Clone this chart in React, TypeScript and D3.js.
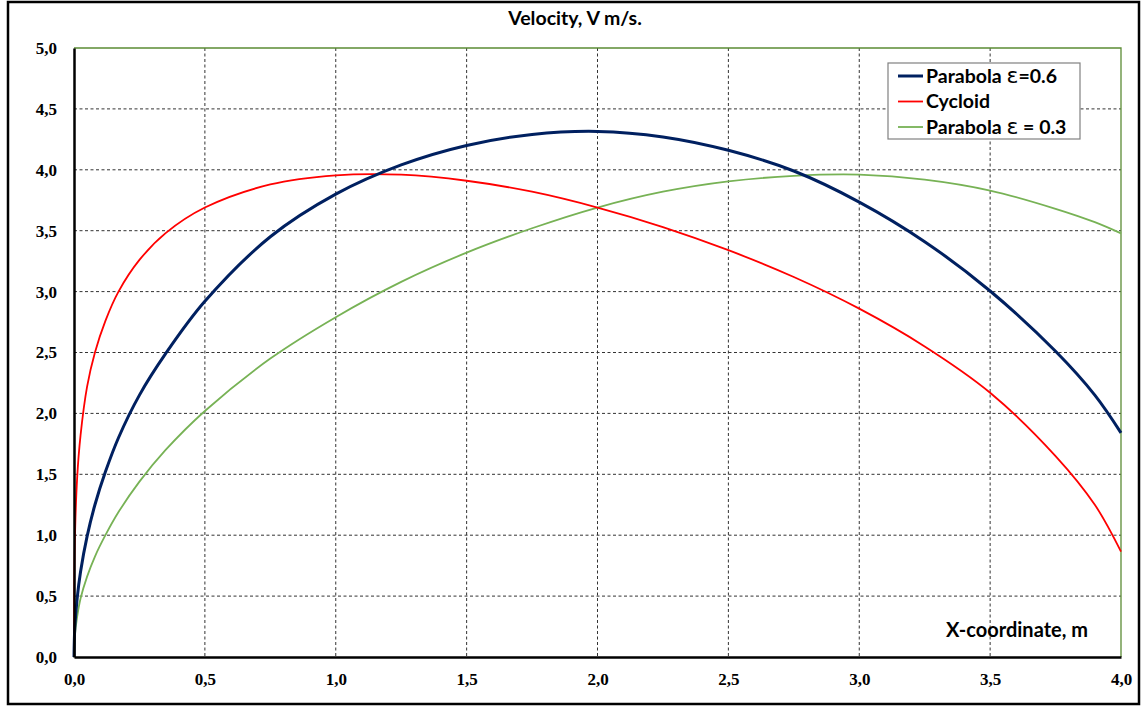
import React, { useEffect, useRef } from 'react';
import * as d3 from 'd3';

// x-coordinate samples (m); denser near the origin where the curves rise steeply
const xValues = [
  0, 0.003, 0.012, 0.025, 0.05, 0.08, 0.12, 0.17, 0.25, 0.35, 0.5, 0.75, 1.0, 1.25, 1.5,
  1.75, 2.0, 2.25, 2.5, 2.75, 3.0, 3.25, 3.5, 3.75, 3.9, 4.0,
];

// velocity V (m/s) at those x values
const parabola06 = [
  0, 0.24, 0.48, 0.7, 0.99, 1.25, 1.52, 1.8, 2.15, 2.49, 2.92, 3.45, 3.8, 4.04, 4.2,
  4.29, 4.315, 4.27, 4.16, 3.99, 3.735, 3.41, 3.005, 2.51, 2.15, 1.84,
];
const cycloid = [
  0, 0.92, 1.47, 1.82, 2.22, 2.5, 2.76, 3.0, 3.26, 3.48, 3.69, 3.88, 3.955, 3.96, 3.91,
  3.82, 3.69, 3.53, 3.34, 3.12, 2.86, 2.55, 2.17, 1.65, 1.25, 0.865,
];
const parabola03 = [
  0, 0.17, 0.33, 0.48, 0.66, 0.825, 1.0, 1.19, 1.44, 1.7, 2.02, 2.45, 2.79, 3.08, 3.32,
  3.52, 3.69, 3.82, 3.905, 3.95, 3.96, 3.92, 3.83, 3.68, 3.57, 3.478,
];

const xTicks = [0, 0.5, 1, 1.5, 2, 2.5, 3, 3.5, 4];
const yTicks = [0, 0.5, 1, 1.5, 2, 2.5, 3, 3.5, 4, 4.5, 5];

const series = [
  { name: 'Parabola ', eps: 'ε', tail: '=0.6', values: parabola06, color: '#002060', width: 3 },
  { name: 'Cycloid', eps: '', tail: '', values: cycloid, color: '#ff0000', width: 1.8 },
  { name: 'Parabola ', eps: 'ε', tail: ' = 0.3', values: parabola03, color: '#77b255', width: 1.8 },
];

const W = 1147;
const H = 707;
const margin = { left: 74, right: 26, top: 48, bottom: 50 };

const Chart: React.FC = () => {
  const svgRef = useRef<SVGSVGElement>(null);

  useEffect(() => {
    if (!svgRef.current) return;
    const svg = d3.select(svgRef.current);
    svg.selectAll('*').remove();

    const x = d3.scaleLinear().domain([0, 4]).range([margin.left, W - margin.right]);
    const y = d3.scaleLinear().domain([0, 5]).range([H - margin.bottom, margin.top]);
    const loc = d3.formatLocale({ decimal: ',', thousands: ' ', grouping: [3], currency: ['', ''] });
    const fmt = loc.format('.1f');

    // outer frame
    svg
      .append('rect')
      .attr('x', 8)
      .attr('y', 2)
      .attr('width', 1131)
      .attr('height', 702)
      .attr('fill', 'white')
      .attr('stroke', 'black')
      .attr('stroke-width', 2.5);

    // grid
    const grid = svg.append('g').attr('stroke', '#333').attr('stroke-width', 1).attr('stroke-dasharray', '3,2.5');
    grid
      .selectAll('line.v')
      .data(xTicks.filter((t) => t > 0 && t < 4))
      .enter()
      .append('line')
      .attr('x1', (d) => x(d))
      .attr('x2', (d) => x(d))
      .attr('y1', y(5))
      .attr('y2', y(0));
    grid
      .selectAll('line.h')
      .data(yTicks.filter((t) => t > 0 && t < 5))
      .enter()
      .append('line')
      .attr('x1', x(0))
      .attr('x2', x(4))
      .attr('y1', (d) => y(d))
      .attr('y2', (d) => y(d));

    // green top / right plot border
    svg
      .append('path')
      .attr('d', `M${x(0)},${y(5)}H${x(4)}V${y(0)}`)
      .attr('fill', 'none')
      .attr('stroke', '#5b8c35')
      .attr('stroke-width', 1.3);

    // curves
    const line = d3
      .line<number>()
      .x((_, i) => x(xValues[i]))
      .y((d) => y(d))
      .curve(d3.curveCatmullRom.alpha(0.5));

    svg
      .append('g')
      .selectAll('path')
      .data([series[2], series[1], series[0]])
      .enter()
      .append('path')
      .attr('d', (s) => line(s.values))
      .attr('fill', 'none')
      .attr('stroke', (s) => s.color)
      .attr('stroke-width', (s) => s.width);

    // axes
    const xAxis = svg
      .append('g')
      .attr('transform', `translate(0,${y(0)})`)
      .call(d3.axisBottom(x).tickValues(xTicks).tickSize(0).tickPadding(16).tickFormat((d) => fmt(d as number)));
    const yAxis = svg
      .append('g')
      .attr('transform', `translate(${x(0)},0)`)
      .call(d3.axisLeft(y).tickValues(yTicks).tickSize(0).tickPadding(17).tickFormat((d) => fmt(d as number)));
    [xAxis, yAxis].forEach((a) => {
      a.select('.domain').attr('stroke', 'black').attr('stroke-width', 2.5);
      a.selectAll('text')
        .attr('font-family', '"Liberation Serif", "Times New Roman", serif')
        .attr('font-weight', 'bold')
        .attr('font-size', 17)
        .attr('fill', 'black');
    });

    const sans = 'Lato, "Open Sans", sans-serif';

    // title
    svg
      .append('text')
      .attr('x', 575)
      .attr('y', 25)
      .attr('text-anchor', 'middle')
      .attr('font-family', sans)
      .attr('font-weight', 'bold')
      .attr('font-size', 19.5)
      .text('Velocity, V m/s.');

    // x axis title
    svg
      .append('text')
      .attr('x', 1088)
      .attr('y', 637)
      .attr('text-anchor', 'end')
      .attr('font-family', sans)
      .attr('font-weight', 'bold')
      .attr('font-size', 20)
      .text('X-coordinate, m');

    // legend
    const lg = svg.append('g').attr('transform', 'translate(888,63)');
    lg.append('rect')
      .attr('width', 192)
      .attr('height', 76)
      .attr('fill', 'white')
      .attr('stroke', '#808080')
      .attr('stroke-width', 1.2);
    series.forEach((s, i) => {
      const ry = 13 + i * 25.5;
      lg.append('line')
        .attr('x1', 10)
        .attr('x2', 35)
        .attr('y1', ry)
        .attr('y2', ry)
        .attr('stroke', s.color)
        .attr('stroke-width', s.width);
      const t = lg
        .append('text')
        .attr('x', 38)
        .attr('y', ry + 6.5)
        .attr('font-family', sans)
        .attr('font-weight', 'bold')
        .attr('font-size', 19.5);
      t.append('tspan').text(s.name);
      if (s.eps) {
        t.append('tspan').attr('font-family', '"DejaVu Sans", sans-serif').attr('font-weight', 'normal').attr('font-size', 22).text(s.eps);
        t.append('tspan').text(s.tail);
      }
    });
  }, []);

  return <svg ref={svgRef} width={W} height={H} style={{ position: 'absolute', left: 0, top: 0 }} />;
};

export default function App() {
  return <Chart />;
}
